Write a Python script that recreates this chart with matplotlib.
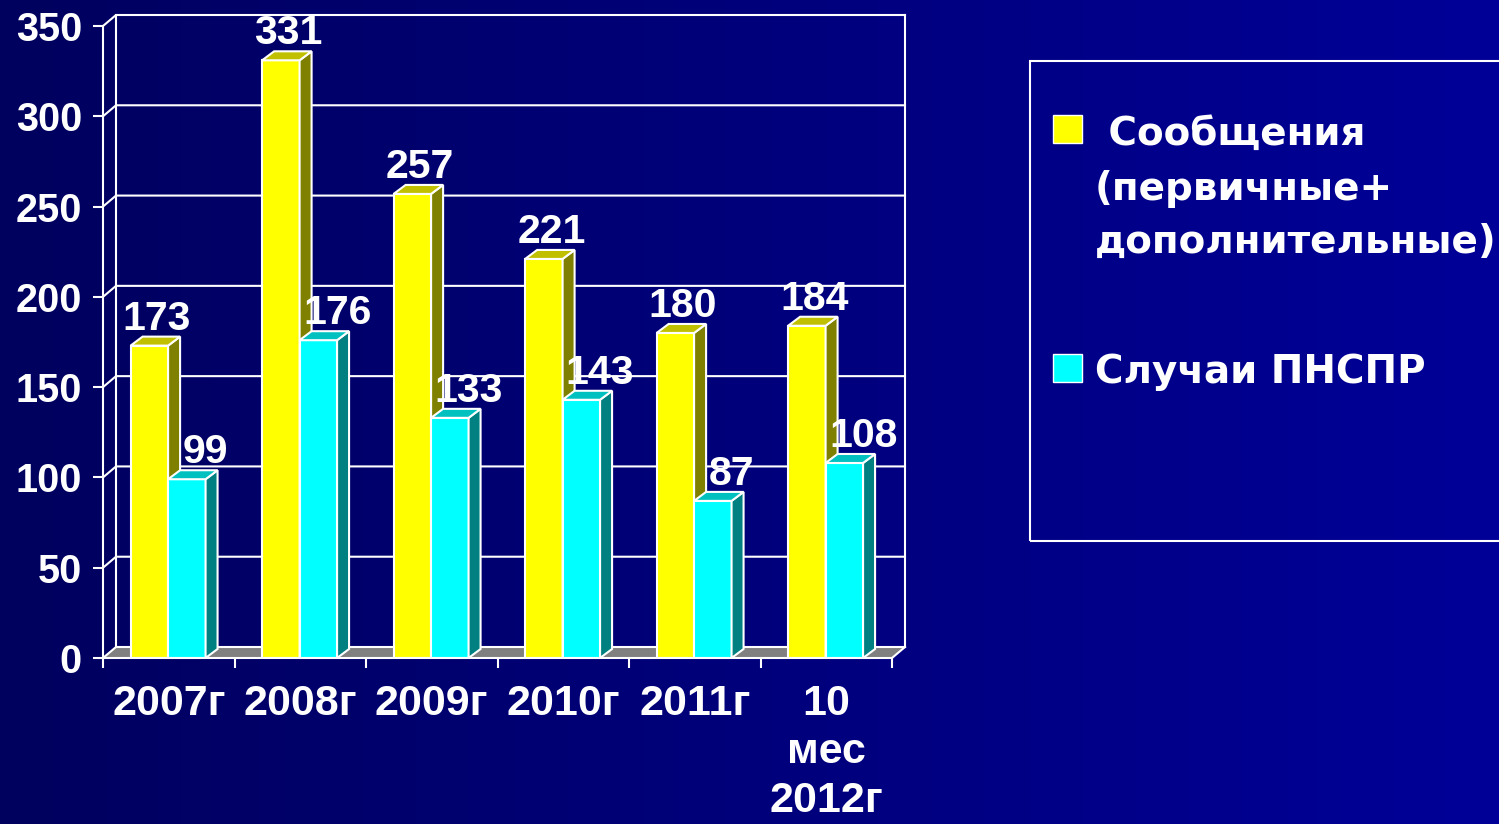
import numpy as np
import matplotlib
matplotlib.use("Agg")
import matplotlib.pyplot as plt
from matplotlib.patches import Polygon, Rectangle
from matplotlib.colors import LinearSegmentedColormap

plt.rcParams["font.family"] = ["Liberation Sans", "DejaVu Sans"]
plt.rcParams["font.weight"] = "bold"

# Data
categories = ["2007г", "2008г", "2009г", "2010г", "2011г", "10\nмес\n2012г"]
messages = [173, 331, 257, 221, 180, 184]
cases = [99, 176, 133, 143, 87, 108]
legend_lines = [" Сообщения", "(первичные+", "дополнительные)"]
legend_cases = "Случаи ПНСПР"
yticks = [0, 50, 100, 150, 200, 250, 300, 350]

W, H = 1499, 824
fig = plt.figure(figsize=(W / 100, H / 100), dpi=100)

# gradient background
bg = fig.add_axes([0, 0, 1, 1], zorder=-10)
cmap = LinearSegmentedColormap.from_list("bg", ["#00005E", "#000098"])
bg.imshow(np.linspace(0, 1, 256).reshape(1, -1), aspect="auto", cmap=cmap, extent=[0, 1, 0, 1])
bg.axis("off")

# front plane of the pseudo-3D plot
ax = fig.add_axes([103 / W, 1 - 658 / H, (892 - 103) / W, (658 - 26) / H])
ax.set_xlim(0, 6)
ax.set_ylim(0, 350)
ax.patch.set_visible(False)

px_x = (892 - 103) / 6.0
px_y = (658 - 26) / 350.0
DX, DY = 13 / px_x, 11 / px_y      # wall depth
BDX, BDY = 12 / px_x, 9 / px_y     # bar depth
X0, BW = 0.21, 0.285
LW = 1.5
WHITE = "white"

# floor
ax.add_patch(Polygon([(0, 0), (6, 0), (6 + DX, DY), (DX, DY)], closed=True,
                     facecolor="#808080", edgecolor="none", zorder=1, clip_on=False))
# back wall grid + side wall diagonals
for y in yticks:
    ax.plot([0, DX, 6 + DX], [y, y + DY, y + DY], color=WHITE, lw=LW, clip_on=False, zorder=1.5)
ax.plot([DX, DX], [DY, 350 + DY], color=WHITE, lw=LW, clip_on=False, zorder=1.5)
ax.plot([6 + DX, 6 + DX], [DY, 350 + DY], color=WHITE, lw=LW, clip_on=False, zorder=1.5)
ax.plot([6, 6 + DX], [0, DY], color=WHITE, lw=LW, clip_on=False, zorder=1.5)

x = np.arange(len(categories))


def bars3d(values, left, front, side, top, z, lab_dx):
    bars = ax.bar(left, values, width=BW, align="edge", color=front, edgecolor=WHITE,
                  linewidth=LW, zorder=z)
    for r in bars:
        x0, w, h = r.get_x(), r.get_width(), r.get_height()
        ax.add_patch(Polygon([(x0 + w, 0), (x0 + w + BDX, BDY), (x0 + w + BDX, h + BDY), (x0 + w, h)],
                             closed=True, facecolor=side, edgecolor=WHITE, lw=LW, zorder=z, clip_on=False))
        ax.add_patch(Polygon([(x0, h), (x0 + w, h), (x0 + w + BDX, h + BDY), (x0 + BDX, h + BDY)],
                             closed=True, facecolor=top, edgecolor=WHITE, lw=LW, zorder=z, clip_on=False))
        ax.annotate(f"{h:.0f}", (x0 + w / 2, h + BDY), xytext=(lab_dx, 5), textcoords="offset points",
                    ha="center", va="baseline", color=WHITE, fontsize=29.5, fontweight="bold",
                    zorder=10, annotation_clip=False)


bars3d(messages, x + X0, "#FFFF00", "#808000", "#C0C000", 3, 5.5)
bars3d(cases, x + X0 + BW, "#00FFFF", "#008080", "#00C0C0", 5, 13.5)

# axes styling
for s in ["top", "right"]:
    ax.spines[s].set_visible(False)
for s in ["left", "bottom"]:
    ax.spines[s].set_color(WHITE)
    ax.spines[s].set_linewidth(LW)
    ax.spines[s].set_zorder(6)
ax.set_yticks(yticks)
ax.tick_params(axis="y", colors=WHITE, length=7.2, width=LW, labelsize=28.5, pad=8)
ax.set_xticks(np.arange(7))
ax.set_xticklabels([])
ax.tick_params(axis="x", which="major", colors=WHITE, length=7.2, width=LW)
ax.set_xticks(x + 0.5, minor=True)
ax.set_xticklabels(categories, minor=True, fontsize=31, color=WHITE, linespacing=1.28)
ax.tick_params(axis="x", which="minor", length=0, pad=18.5)
for t in ax.get_yticklabels():
    t.set_fontweight("bold")

# legend box
fig.add_artist(Rectangle((1030 / W, 1 - 541 / H), (1520 - 1030) / W, (541 - 61) / H,
                         transform=fig.transFigure, fill=False, edgecolor=WHITE, lw=LW))
fig.add_artist(Rectangle((1053 / W, 1 - 143 / H), 29 / W, 28 / H, transform=fig.transFigure,
                         facecolor="#FFFF00", edgecolor=WHITE, lw=1))
fig.add_artist(Rectangle((1053 / W, 1 - 382 / H), 29 / W, 28 / H, transform=fig.transFigure,
                         facecolor="#00FFFF", edgecolor=WHITE, lw=1))
leg_font = ["DejaVu Sans"]
for txt, yb in zip(legend_lines, [145, 200, 253]):
    fig.text(1095 / W, 1 - yb / H, txt, color=WHITE, fontsize=28, fontweight="bold",
             va="baseline", family=leg_font)
fig.text(1095 / W, 1 - 383 / H, legend_cases, color=WHITE, fontsize=28, fontweight="bold",
         va="baseline", family=leg_font)

fig.savefig("out.png", dpi=100, facecolor="#000070")
